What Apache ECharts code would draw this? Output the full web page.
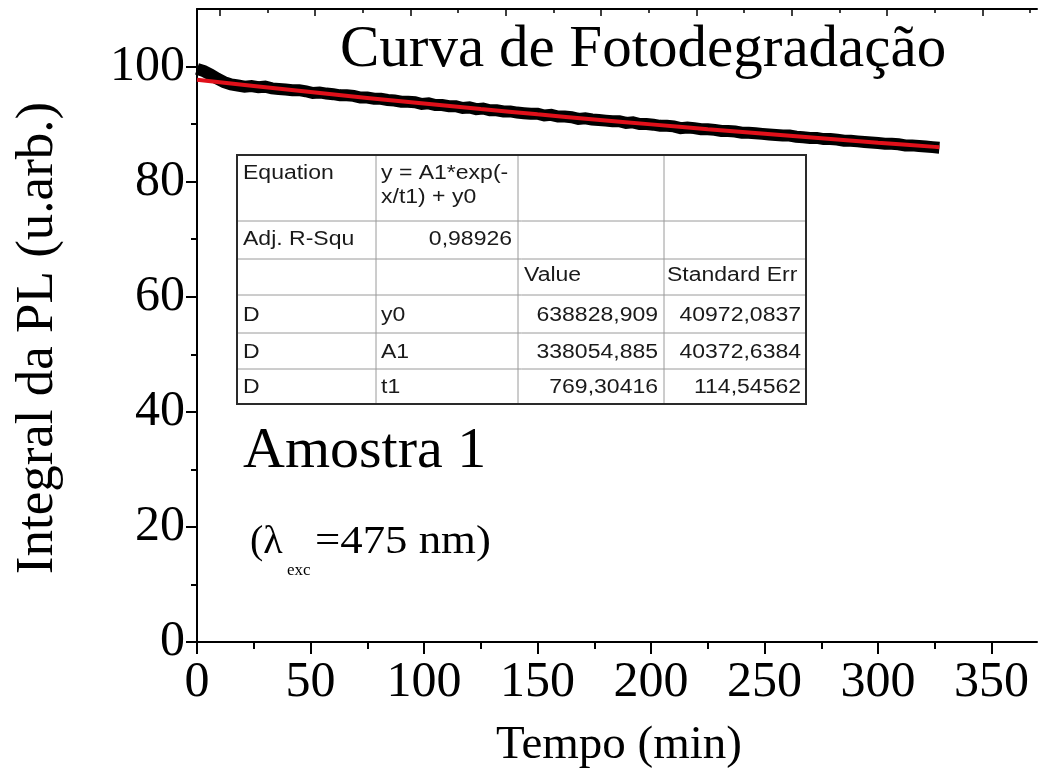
<!DOCTYPE html>
<html>
<head>
<meta charset="utf-8">
<script src="https://cdn.jsdelivr.net/npm/echarts@6/dist/echarts.min.js"></script>
<style>
  html, body { margin: 0; padding: 0; background: #ffffff; }
  #chart { width: 1040px; height: 776px; }
</style>
</head>
<body>
<div id="chart"></div>
<script>
// Measured photoluminescence integral (u.arb.) versus exposure time (min)
const timeMin = [
  0, 3, 6, 9, 12, 15, 18, 21, 24, 27,
  30, 33, 36, 39, 42, 45, 48, 51, 54, 57,
  60, 63, 66, 69, 72, 75, 78, 81, 84, 87,
  90, 93, 96, 99, 102, 105, 108, 111, 114, 117,
  120, 123, 126, 129, 132, 135, 138, 141, 144, 147,
  150, 153, 156, 159, 162, 165, 168, 171, 174, 177,
  180, 183, 186, 189, 192, 195, 198, 201, 204, 207,
  210, 213, 216, 219, 222, 225, 228, 231, 234, 237,
  240, 243, 246, 249, 252, 255, 258, 261, 264, 267,
  270, 273, 276, 279, 282, 285, 288, 291, 294, 297,
  300, 303, 306, 309, 312, 315, 318, 321, 324, 327
];
const plIntegral = [
  99.6, 99.2, 98.6, 97.9, 97.3, 96.9, 96.7, 96.5, 96.6, 96.4,
  96.5, 96.2, 96.1, 96.0, 95.9, 95.9, 95.7, 95.4, 95.5, 95.3,
  95.2, 95.0, 95.0, 94.9, 94.6, 94.6, 94.4, 94.4, 94.2, 94.1,
  93.9, 93.9, 93.8, 93.5, 93.6, 93.3, 93.3, 93.1, 93.1, 92.8,
  92.9, 92.6, 92.7, 92.4, 92.4, 92.2, 92.2, 92.0, 91.9, 91.8,
  91.8, 91.5, 91.6, 91.3, 91.3, 91.2, 90.9, 91.0, 90.8, 90.7,
  90.6, 90.5, 90.5, 90.2, 90.3, 90.0, 90.0, 89.9, 89.7, 89.7,
  89.6, 89.3, 89.4, 89.3, 89.1, 89.1, 89.0, 88.8, 88.8, 88.7,
  88.5, 88.5, 88.4, 88.3, 88.2, 88.1, 88.0, 88.0, 87.8, 87.7,
  87.6, 87.6, 87.4, 87.4, 87.3, 87.1, 87.1, 87.0, 86.9, 86.8,
  86.7, 86.6, 86.6, 86.5, 86.3, 86.3, 86.2, 86.1, 86.0, 85.9
];

// Exponential decay fit, y = A1*exp(-x/t1) + y0 (in units of 10^4)
const fitTime  = [0, 25, 50, 75, 100, 125, 150, 175, 200, 225, 250, 275, 300, 325, 327];
const fitValue = [97.69, 96.61, 95.56, 94.55, 93.57, 92.62, 91.70, 90.81, 89.95, 89.12, 88.31, 87.53, 86.77, 86.04, 85.98];

// Axis ticks
const xMajorTicks = [0, 50, 100, 150, 200, 250, 300, 350];
const xMinorTicks = [25, 75, 125, 175, 225, 275, 325];
const yMajorTicks = [0, 20, 40, 60, 80, 100];
const yMinorTicks = [10, 30, 50, 70, 90];
const topMajorTicks = [10, 52, 94, 136, 178, 220, 262, 304, 346];
const topMinorTicks = [31, 73, 115, 157, 199, 241, 283, 325, 367];

// Fit report
const fitEquation = ['y = A1*exp(-', 'x/t1) + y0'];
const fitAdjR2 = '0,98926';
const fitHeader = ['Value', 'Standard Err'];
const fitParams = [
  ['D', 'y0', '638828,909', '40972,0837'],
  ['D', 'A1', '338054,885', '40372,6384'],
  ['D', 't1', '769,30416', '114,54562']
];

const SERIF = 'Liberation Serif, Times New Roman, serif';
const SANS = 'Liberation Sans, Arial, sans-serif';

const chart = echarts.init(document.getElementById('chart'), null, { renderer: 'canvas' });

// table layout
const colX = [237, 376, 518, 664, 806];
const rowY = [155, 221, 259, 295, 333, 369, 404];
const tFont = 20, tScale = 1.15;

function cellText(txt, x, y, align) {
  return {
    type: 'text', x: x, y: y, scaleX: tScale, z: 20,
    style: { text: txt, fill: '#1a1a1a', font: tFont + 'px ' + SANS,
             textAlign: align, textVerticalAlign: 'middle' }
  };
}

const tableEls = [];
tableEls.push({ type: 'rect', z: 15,
  shape: { x: colX[0], y: rowY[0], width: colX[4] - colX[0], height: rowY[6] - rowY[0] },
  style: { fill: '#ffffff', stroke: 'none' } });
for (let i = 1; i < rowY.length - 1; i++) {
  tableEls.push({ type: 'line', z: 16,
    shape: { x1: colX[0], y1: rowY[i], x2: colX[4], y2: rowY[i] },
    style: { stroke: '#9a9a9a', lineWidth: 1 } });
}
for (let j = 1; j < colX.length - 1; j++) {
  tableEls.push({ type: 'line', z: 16,
    shape: { x1: colX[j], y1: rowY[0], x2: colX[j], y2: rowY[6] },
    style: { stroke: '#9a9a9a', lineWidth: 1 } });
}
tableEls.push({ type: 'rect', z: 17,
  shape: { x: colX[0], y: rowY[0], width: colX[4] - colX[0], height: rowY[6] - rowY[0] },
  style: { fill: 'none', stroke: '#2a2a2a', lineWidth: 2 } });

tableEls.push(cellText('Equation', colX[0] + 6, 173, 'left'));
tableEls.push(cellText(fitEquation[0], colX[1] + 5, 173, 'left'));
tableEls.push(cellText(fitEquation[1], colX[1] + 5, 197, 'left'));
tableEls.push(cellText('Adj. R-Squ', colX[0] + 6, 239, 'left'));
tableEls.push(cellText(fitAdjR2, colX[2] - 6, 239, 'right'));
tableEls.push(cellText(fitHeader[0], colX[2] + 6, 275, 'left'));
tableEls.push({
  type: 'text', x: colX[3] + 3, y: 275, scaleX: tScale, z: 20,
  style: { text: fitHeader[1], fill: '#1a1a1a', font: tFont + 'px ' + SANS,
           textAlign: 'left', textVerticalAlign: 'middle',
           width: (colX[4] - colX[3] - 4) / tScale, overflow: 'truncate', ellipsis: '' }
});
fitParams.forEach(function (row, k) {
  const yc = (rowY[3 + k] + rowY[4 + k]) / 2 + 1;
  tableEls.push(cellText(row[0], colX[0] + 6, yc, 'left'));
  tableEls.push(cellText(row[1], colX[1] + 5, yc, 'left'));
  tableEls.push(cellText(row[2], colX[3] - 6, yc, 'right'));
  tableEls.push(cellText(row[3], colX[4] - 5, yc, 'right'));
});

const axisLineStyle = { color: '#000', width: 2 };

const option = {
  backgroundColor: '#ffffff',
  animation: false,
  grid: { left: 197, right: 3, top: 9, bottom: 134, containLabel: false },
  xAxis: [
    {
      type: 'value', position: 'bottom', min: 0, max: 370,
      splitLine: { show: false },
      axisLine: { show: true, onZero: false, lineStyle: axisLineStyle },
      axisTick: { show: true, inside: false, length: 12, customValues: xMajorTicks,
                  lineStyle: { color: '#000', width: 2 } },
      axisLabel: { show: true, customValues: xMajorTicks, margin: 16,
                   fontFamily: SERIF, fontSize: 50, color: '#000' }
    },
    {
      type: 'value', position: 'bottom', min: 0, max: 370,
      splitLine: { show: false },
      axisLine: { show: false, onZero: false },
      axisTick: { show: true, inside: false, length: 7, customValues: xMinorTicks,
                  lineStyle: { color: '#000', width: 2 } },
      axisLabel: { show: false }
    },
    {
      type: 'value', position: 'top', min: 0, max: 370,
      splitLine: { show: false },
      axisLine: { show: true, onZero: false, lineStyle: axisLineStyle },
      axisTick: { show: true, inside: true, length: 7, customValues: topMajorTicks,
                  lineStyle: { color: '#000', width: 1.5 } },
      axisLabel: { show: false }
    },
    {
      type: 'value', position: 'top', min: 0, max: 370,
      splitLine: { show: false },
      axisLine: { show: false, onZero: false },
      axisTick: { show: true, inside: true, length: 4, customValues: topMinorTicks,
                  lineStyle: { color: '#000', width: 1.5 } },
      axisLabel: { show: false }
    }
  ],
  yAxis: [
    {
      type: 'value', position: 'left', min: 0, max: 110,
      splitLine: { show: false },
      axisLine: { show: true, onZero: false, lineStyle: axisLineStyle },
      axisTick: { show: true, inside: false, length: 11, customValues: yMajorTicks,
                  lineStyle: { color: '#000', width: 2 } },
      axisLabel: { show: true, customValues: yMajorTicks, margin: 12,
                   fontFamily: SERIF, fontSize: 50, color: '#000' }
    },
    {
      type: 'value', position: 'left', min: 0, max: 110,
      splitLine: { show: false },
      axisLine: { show: false, onZero: false },
      axisTick: { show: true, inside: false, length: 6, customValues: yMinorTicks,
                  lineStyle: { color: '#000', width: 2 } },
      axisLabel: { show: false }
    }
  ],
  series: [
    {
      name: 'PL', type: 'line', xAxisIndex: 0, yAxisIndex: 0,
      data: timeMin.map(function (t, i) { return [t, plIntegral[i]]; }),
      showSymbol: false, symbol: 'none',
      lineStyle: { color: '#000', width: 12, join: 'miter' },
      z: 3
    },
    {
      name: 'Fit', type: 'line', xAxisIndex: 0, yAxisIndex: 0,
      data: fitTime.map(function (t, i) { return [t, fitValue[i]]; }),
      showSymbol: false, symbol: 'none', smooth: true,
      lineStyle: { color: '#e0101a', width: 4 },
      z: 4
    }
  ],
  graphic: [
    { type: 'text', x: 340, y: 50, z: 10,
      style: { text: 'Curva de Fotodegradação', fill: '#000', font: '59px ' + SERIF,
               textAlign: 'left', textVerticalAlign: 'middle' } },
    { type: 'text', x: 243, y: 452, z: 10,
      style: { text: 'Amostra 1', fill: '#000', font: '58px ' + SERIF,
               textAlign: 'left', textVerticalAlign: 'middle' } },
    { type: 'text', x: 250, y: 542, z: 10,
      style: { text: '(λ', fill: '#000', font: '40px ' + SERIF,
               textAlign: 'left', textVerticalAlign: 'middle' } },
    { type: 'text', x: 287, y: 571, z: 10,
      style: { text: 'exc', fill: '#000', font: '17px ' + SERIF,
               textAlign: 'left', textVerticalAlign: 'middle' } },
    { type: 'text', x: 315, y: 542, scaleX: 1.12, z: 10,
      style: { text: '=475 nm)', fill: '#000', font: '40px ' + SERIF,
               textAlign: 'left', textVerticalAlign: 'middle' } },
    { type: 'text', x: 619, y: 746, z: 10,
      style: { text: 'Tempo (min)', fill: '#000', font: '47px ' + SERIF,
               textAlign: 'center', textVerticalAlign: 'middle' } },
    { type: 'text', x: 38, y: 338, rotation: Math.PI / 2, z: 10,
      style: { text: 'Integral da PL (u.arb.)', fill: '#000', font: '53px ' + SERIF,
               textAlign: 'center', textVerticalAlign: 'middle' } }
  ].concat(tableEls)
};

chart.setOption(option);
</script>
</body>
</html>
